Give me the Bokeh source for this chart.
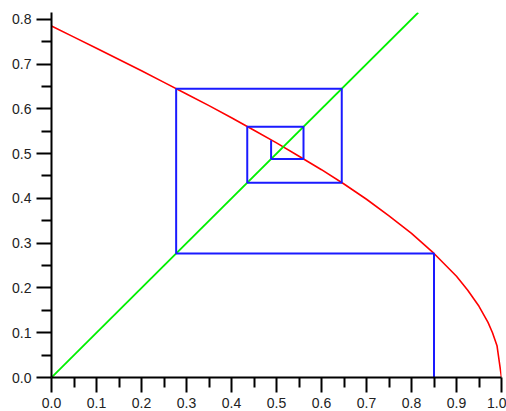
from bokeh.plotting import figure
from bokeh.models import Range1d, FixedTicker, PrintfTickFormatter
from bokeh.embed import file_html
from bokeh.resources import INLINE

# red curve
curve_x = [0.0, 0.05, 0.1, 0.15, 0.2, 0.25, 0.3, 0.35, 0.4, 0.45, 0.5, 0.55, 0.6,
           0.65, 0.7, 0.75, 0.8, 0.85, 0.9, 0.925, 0.95, 0.97, 0.98, 0.99, 1.0]
curve_y = [0.785, 0.760, 0.735, 0.710, 0.685, 0.659, 0.633, 0.607, 0.580, 0.552,
           0.524, 0.494, 0.464, 0.432, 0.398, 0.361, 0.322, 0.277, 0.226, 0.195,
           0.159, 0.123, 0.100, 0.071, 0.0]

# green diagonal
diag_x = [0.0, 0.815]
diag_y = [0.0, 0.815]

# blue cobweb path
web_x = [0.85, 0.85, 0.277, 0.277, 0.645, 0.645, 0.435, 0.435, 0.560, 0.560, 0.488, 0.488]
web_y = [0.0, 0.277, 0.277, 0.645, 0.645, 0.435, 0.435, 0.560, 0.560, 0.488, 0.488, 0.530]

x_ticks = [0.0, 0.1, 0.2, 0.3, 0.4, 0.5, 0.6, 0.7, 0.8, 0.9, 1.0]
y_ticks = [0.0, 0.1, 0.2, 0.3, 0.4, 0.5, 0.6, 0.7, 0.8]
x_minor = [0.05, 0.15, 0.25, 0.35, 0.45, 0.55, 0.65, 0.75, 0.85, 0.95]
y_minor = [0.05, 0.15, 0.25, 0.35, 0.45, 0.55, 0.65, 0.75]

p = figure(width=506, height=411, output_backend="svg", toolbar_location=None,
           x_range=Range1d(0, 1.0), y_range=Range1d(0, 0.815),
           min_border_left=51, min_border_right=5, min_border_top=12, min_border_bottom=34)
p.outline_line_color = None
p.grid.visible = False
p.background_fill_color = "white"

p.line(curve_x, curve_y, line_color="#ff0000", line_width=1.6)
p.line(diag_x, diag_y, line_color="#00f000", line_width=1.8)
p.line(web_x, web_y, line_color="#1a1aff", line_width=2)

p.xaxis.ticker = FixedTicker(ticks=x_ticks, minor_ticks=x_minor)
p.yaxis.ticker = FixedTicker(ticks=y_ticks, minor_ticks=y_minor)
for ax in (p.xaxis, p.yaxis):
    ax.formatter = PrintfTickFormatter(format="%.1f")
    ax.axis_line_color = "black"
    ax.axis_line_width = 2
    ax.major_tick_line_color = "black"
    ax.major_tick_line_width = 2
    ax.minor_tick_line_color = "black"
    ax.minor_tick_line_width = 2
    ax.major_tick_out = 15
    ax.major_tick_in = 0
    ax.minor_tick_out = 10
    ax.minor_tick_in = 0
    ax.major_label_text_font = "Liberation Sans"
    ax.major_label_text_font_size = "14px"
    ax.major_label_text_font_style = "normal"
    ax.major_label_text_color = "#222222"
    ax.major_label_standoff = 5

open("out.html", "w").write(file_html(p, INLINE))
